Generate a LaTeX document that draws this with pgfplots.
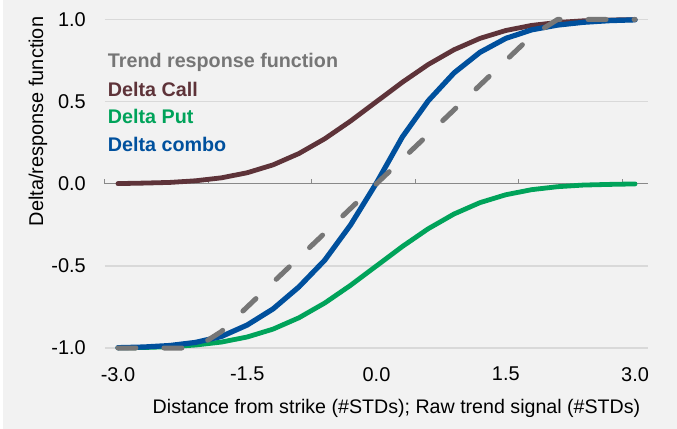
\documentclass[border=0pt]{standalone}
\usepackage{fontspec}
\setmainfont{Liberation Sans}
\usepackage{pgfplots}
\pgfplotsset{compat=1.18}

\definecolor{bgc}{HTML}{F2F2F2}
\definecolor{gridc}{HTML}{D9D9D9}
\definecolor{zeroc}{HTML}{898989}
\definecolor{trendc}{HTML}{767676}
\definecolor{callc}{HTML}{5E3339}
\definecolor{putc}{HTML}{00A35A}
\definecolor{comboc}{HTML}{00509D}

\begin{document}
\begin{tikzpicture}
\useasboundingbox (-105bp,-81bp) rectangle (572bp,348bp);
\fill[white] (-105bp,-81bp) rectangle (572bp,348bp);
\fill[bgc] (-102bp,-81bp) rectangle (572bp,348bp);
\begin{axis}[
    scale only axis,
    width=543bp, height=328.5bp,
    xmin=-3.15, xmax=3.15, ymin=-1, ymax=1,
    axis line style={draw=none},
    xtick={-3,-1.5,0,1.5,3},
    xticklabels={-3.0,-1.5,0.0,1.5,3.0},
    ytick={-1,-0.5,0,0.5,1},
    yticklabels={-1.0,-0.5,0.0,0.5,1.0},
    major tick length=0pt,
    ymajorgrids,
    grid style={gridc, line width=1.5bp},
    tick label style={font=\fontsize{20}{22}\selectfont, inner sep=0pt},
    xticklabel style={anchor=north, yshift=-19bp},
    yticklabel style={anchor=east, xshift=-19bp},
    clip=false,
    every axis plot/.append style={line join=round, line cap=round},
    ]
    % zero line with the category tick marks
    \draw[zeroc, line width=1.3bp] (axis cs:-3.15,0) -- (axis cs:3.15,0);
    \pgfplotsinvokeforeach{-3.15,-1.95,-0.75,0.45,1.65,2.85}{
        \draw[zeroc, line width=1bp] (axis cs:#1,0) -- ++(0pt,5bp);
    }
    % Delta Call
    \addplot[callc, line width=4.8bp] coordinates {
        (-3,0.001) (-2.7,0.004) (-2.4,0.008) (-2.1,0.018) (-1.8,0.036)
        (-1.5,0.067) (-1.2,0.115) (-0.9,0.184) (-0.6,0.274) (-0.3,0.382)
        (0,0.500) (0.3,0.618) (0.6,0.726) (0.9,0.816) (1.2,0.885)
        (1.5,0.933) (1.8,0.964) (2.1,0.982) (2.4,0.992) (2.7,0.997) (3,0.999)
    };
    % Delta Put
    \addplot[putc, line width=4.8bp] coordinates {
        (-3,-0.999) (-2.7,-0.997) (-2.4,-0.992) (-2.1,-0.982) (-1.8,-0.964)
        (-1.5,-0.933) (-1.2,-0.885) (-0.9,-0.816) (-0.6,-0.726) (-0.3,-0.618)
        (0,-0.500) (0.3,-0.382) (0.6,-0.274) (0.9,-0.184) (1.2,-0.115)
        (1.5,-0.067) (1.8,-0.036) (2.1,-0.018) (2.4,-0.008) (2.7,-0.004) (3,-0.001)
    };
    % Delta combo
    \addplot[comboc, line width=5.2bp] coordinates {
        (-3,-0.998) (-2.7,-0.994) (-2.4,-0.985) (-2.1,-0.966) (-1.8,-0.930)
        (-1.5,-0.860) (-1.2,-0.762) (-0.9,-0.628) (-0.6,-0.465) (-0.3,-0.250)
        (0,0.005) (0.3,0.285) (0.6,0.505) (0.9,0.675) (1.2,0.800)
        (1.5,0.885) (1.8,0.937) (2.1,0.966) (2.4,0.983) (2.7,0.993) (3,0.998)
    };
    % Trend response function
    \addplot[trendc, line width=5bp, dash pattern=on 18bp off 28bp] coordinates {
        (-3,-1) (-2.7,-1) (-2.4,-1) (-2.1,-1) (-1.8,-0.9)
        (-1.5,-0.75) (-1.2,-0.6) (-0.9,-0.45) (-0.6,-0.3) (-0.3,-0.15)
        (0,0) (0.3,0.15) (0.6,0.3) (0.9,0.45) (1.2,0.6)
        (1.5,0.75) (1.8,0.9) (2.1,1) (2.4,1) (2.7,1) (3,1)
    };
\end{axis}
% legend, text only
\begin{scope}[every node/.style={anchor=base west, inner sep=0pt,
        font=\fontsize{19.8}{22}\selectfont\bfseries}]
    \node[text=trendc] at (2.7bp,280bp) {Trend response function};
    \node[text=callc]  at (2.7bp,251bp) {Delta Call};
    \node[text=putc]   at (2.7bp,224bp) {Delta Put};
    \node[text=comboc] at (2.7bp,196bp) {Delta combo};
\end{scope}
\node[rotate=90, inner sep=0pt, font=\fontsize{20}{22}\selectfont]
    at (-67bp,226.5bp) {Delta/response function};
\node[inner sep=0pt, font=\fontsize{19.7}{22}\selectfont]
    at (291.5bp,-60bp) {Distance from strike (\#STDs); Raw trend signal (\#STDs)};
\end{tikzpicture}
\end{document}
